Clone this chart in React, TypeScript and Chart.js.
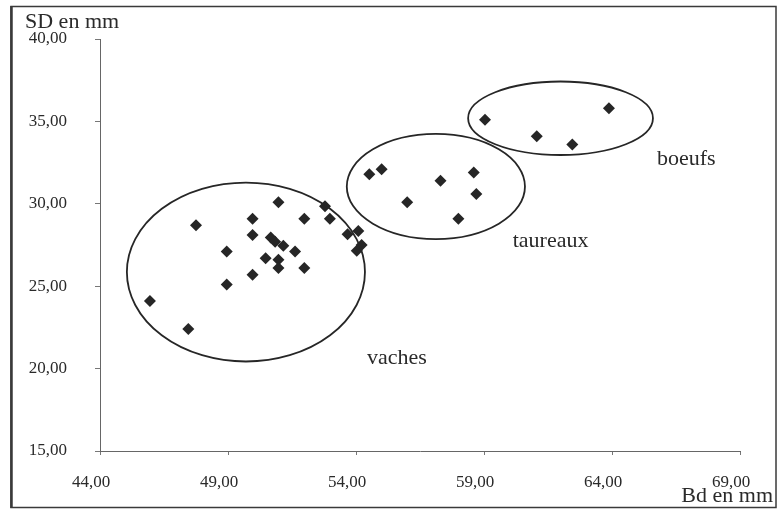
import React, { useEffect, useRef } from "react";
import { Chart, registerables } from "chart.js";

Chart.register(...registerables);

// Bd (x) and SD (y) in mm
const vachesX = [47.75, 45.95, 47.45, 48.95, 48.95, 49.96, 49.96, 49.96, 50.47, 50.67, 50.84, 50.97, 50.97, 50.97, 51.16, 51.62, 51.98, 51.98, 52.79, 52.98, 53.67, 54.09, 54.22, 54.03];
const vachesY = [28.7, 24.1, 22.4, 27.1, 25.1, 29.1, 28.1, 25.7, 26.7, 27.95, 27.7, 30.1, 26.6, 26.1, 27.45, 27.1, 29.1, 26.1, 29.85, 29.1, 28.15, 28.35, 27.5, 27.15];
const taureauxX = [54.52, 55.0, 56.0, 57.3, 58.6, 58.7, 58.0];
const taureauxY = [31.8, 32.1, 30.1, 31.4, 31.9, 30.6, 29.1];
const boeufsX = [59.04, 61.06, 62.45, 63.88];
const boeufsY = [35.1, 34.1, 33.6, 35.8];

const xTicks = [44, 49, 54, 59, 64, 69];
const yTicks = [15, 20, 25, 30, 35, 40];

// group ellipses in data units
const groupNames = ["vaches", "taureaux", "boeufs"];
const ellipseCX = [49.7, 57.12, 61.99];
const ellipseCY = [25.86, 31.05, 35.19];
const ellipseRX = [4.65, 3.48, 3.61];
const ellipseRY = [5.43, 3.19, 2.23];
const labelX = [55.6, 61.6, 66.9];
const labelY = [20.6, 27.7, 32.7];

const xTitle = "Bd en mm";
const yTitle = "SD en mm";

const fmt = (v: number) => v.toFixed(2).replace(".", ",");

const toPts = (xs: number[], ys: number[]) => xs.map((x, i) => ({ x, y: ys[i] }));

const SERIF = "'Liberation Serif', 'Times New Roman', serif";
const INK = "#2a2a2a";

const decorPlugin = {
  id: "decor",
  beforeDraw(chart: any) {
    const ctx = chart.ctx;
    ctx.save();
    ctx.fillStyle = "#ffffff";
    ctx.fillRect(0, 0, chart.width, chart.height);
    ctx.restore();
  },
  afterDraw(chart: any) {
    const ctx = chart.ctx;
    const xs = chart.scales.x;
    const ys = chart.scales.y;
    ctx.save();
    // frame
    ctx.strokeStyle = "#3a3a3a";
    ctx.lineWidth = 1.5;
    ctx.strokeRect(11, 6.5, 765, 501);
    ctx.lineWidth = 2.5;
    ctx.beginPath();
    ctx.moveTo(11.5, 6);
    ctx.lineTo(11.5, 508);
    ctx.stroke();
    // ellipses
    ctx.strokeStyle = "#262626";
    ctx.lineWidth = 1.8;
    for (let i = 0; i < groupNames.length; i++) {
      const cx = xs.getPixelForValue(ellipseCX[i]);
      const cy = ys.getPixelForValue(ellipseCY[i]);
      const rx = Math.abs(xs.getPixelForValue(ellipseCX[i] + ellipseRX[i]) - cx);
      const ry = Math.abs(ys.getPixelForValue(ellipseCY[i] + ellipseRY[i]) - cy);
      ctx.beginPath();
      ctx.ellipse(cx, cy, rx, ry, 0, 0, Math.PI * 2);
      ctx.stroke();
    }
    // group labels
    ctx.fillStyle = INK;
    ctx.font = `22px ${SERIF}`;
    ctx.textAlign = "center";
    ctx.textBaseline = "middle";
    for (let i = 0; i < groupNames.length; i++) {
      ctx.fillText(groupNames[i], xs.getPixelForValue(labelX[i]), ys.getPixelForValue(labelY[i]));
    }
    // axis titles
    ctx.font = `22px ${SERIF}`;
    ctx.textAlign = "left";
    ctx.textBaseline = "middle";
    ctx.fillText(yTitle, 25, 22);
    ctx.textAlign = "right";
    ctx.fillText(xTitle, 773, 496);
    ctx.restore();
  },
};

export default function App() {
  const ref = useRef<HTMLCanvasElement | null>(null);
  useEffect(() => {
    document.body.style.margin = "0";
    if (!ref.current) return;
    const pointStyle = {
      pointStyle: "rectRot" as const,
      pointRadius: 6,
      pointBackgroundColor: "#262626",
      pointBorderColor: "#262626",
      pointBorderWidth: 0,
      showLine: false,
    };
    const chart = new Chart(ref.current, {
      type: "scatter",
      data: {
        datasets: [
          { label: groupNames[0], data: toPts(vachesX, vachesY), ...pointStyle },
          { label: groupNames[1], data: toPts(taureauxX, taureauxY), ...pointStyle },
          { label: groupNames[2], data: toPts(boeufsX, boeufsY), ...pointStyle },
        ],
      },
      options: {
        animation: false,
        responsive: true,
        maintainAspectRatio: false,
        layout: { padding: { left: 0, top: 39, right: 38, bottom: 0 } },
        plugins: { legend: { display: false }, tooltip: { enabled: false } },
        scales: {
          x: {
            type: "linear",
            min: 44,
            max: 69,
            afterFit: (s: any) => { s.height = 59; },
            afterBuildTicks: (s: any) => { s.ticks = xTicks.map((v) => ({ value: v })); },
            border: { display: true, color: "#666", width: 1 },
            grid: { display: true, drawOnChartArea: false, drawTicks: true, tickLength: 4, color: "#777" },
            ticks: {
              callback: (v: any) => fmt(Number(v)),
              color: INK,
              font: { family: SERIF, size: 17 },
              padding: 17,
              labelOffset: -9,
              maxRotation: 0,
            },
          },
          y: {
            type: "linear",
            min: 15,
            max: 40,
            afterFit: (s: any) => { s.width = 100; },
            afterBuildTicks: (s: any) => { s.ticks = yTicks.map((v) => ({ value: v })); },
            border: { display: true, color: "#666", width: 1 },
            grid: { display: true, drawOnChartArea: false, drawTicks: true, tickLength: 5, color: "#777" },
            ticks: {
              callback: (v: any) => fmt(Number(v)),
              color: INK,
              font: { family: SERIF, size: 17 },
              padding: 28,
            },
          },
        },
      },
      plugins: [decorPlugin],
    });
    return () => chart.destroy();
  }, []);
  return (
    <div style={{ width: 778, height: 510, position: "relative", background: "#fff" }}>
      <canvas ref={ref} />
    </div>
  );
}
